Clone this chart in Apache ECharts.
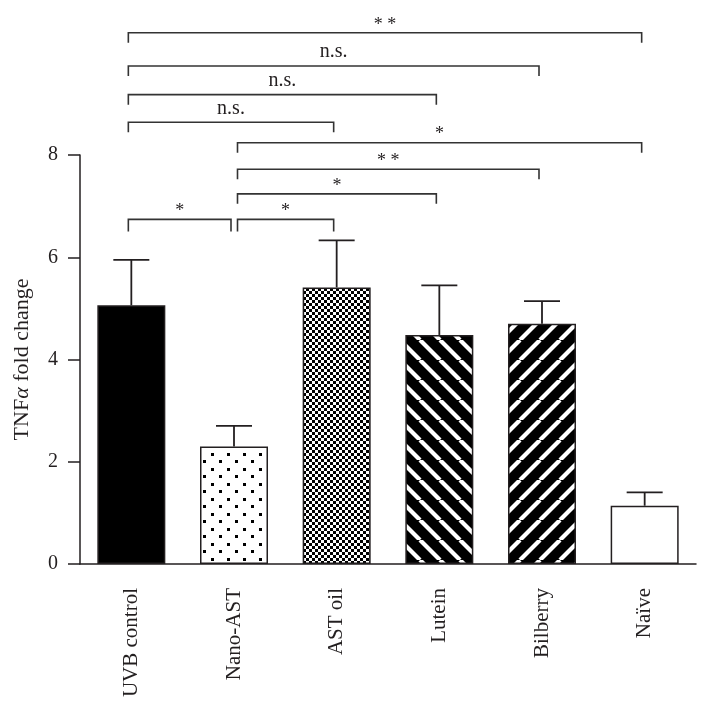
<!DOCTYPE html>
<html>
<head>
<meta charset="utf-8">
<style>html,body{margin:0;padding:0;background:#fff}#chart{width:710px;height:714px}</style>
<script src="https://cdn.jsdelivr.net/npm/echarts@6/dist/echarts.min.js"></script>
</head>
<body>
<div id="chart"></div>
<script>
// ---- data ----
const categories = ['UVB control', 'Nano-AST', 'AST oil', 'Lutein', 'Bilberry', 'Naïve'];
const means = [5.06, 2.30, 5.41, 4.48, 4.70, 1.14];
const errors = [0.89, 0.40, 0.92, 0.97, 0.44, 0.26];
const yTicks = [0, 2, 4, 6, 8];
const compFrom = [0, 0, 0, 0, 1, 1, 1, 0, 1];
const compTo = [5, 4, 3, 2, 5, 4, 3, 1, 2];
const compLabels = ['* *', 'n.s.', 'n.s.', 'n.s.', '*', '* *', '*', '*', '*'];
const compHeights = [10.39, 9.74, 9.18, 8.64, 8.24, 7.72, 7.24, 6.74, 6.74];

// ---- styles ----
const INK = '#231f20';
const FONT = '"Liberation Serif", "DejaVu Serif", serif';

function makeTile(w, h, draw) {
  const c = document.createElement('canvas');
  c.width = w; c.height = h;
  const g = c.getContext('2d');
  draw(g, w, h);
  return { image: c, repeat: 'repeat' };
}
const patDots = makeTile(16, 15, (g, w, h) => {
  g.fillStyle = '#fff'; g.fillRect(0, 0, w, h);
  g.fillStyle = '#000';
  g.fillRect(3, 3, 3, 3);
  g.fillRect(11, 10, 3, 3);
});
const patChecker = makeTile(6, 6, (g, w, h) => {
  g.fillStyle = '#fff'; g.fillRect(0, 0, w, h);
  g.fillStyle = '#000';
  g.fillRect(0, 0, 3, 3);
  g.fillRect(3, 3, 3, 3);
});
function stripes(dir) {
  return makeTile(20, 20, (g, w, h) => {
    g.fillStyle = '#000'; g.fillRect(0, 0, w, h);
    g.strokeStyle = '#fff'; g.lineWidth = 4.2;
    for (let k = -1; k <= 1; k++) {
      g.beginPath();
      if (dir > 0) { g.moveTo(k * w, 0); g.lineTo(k * w + w, h); }
      else { g.moveTo(k * w, h); g.lineTo(k * w + w, 0); }
      g.stroke();
    }
  });
}
const fills = ['#000', patDots, patChecker, stripes(1), stripes(-1), '#fff'];

const chart = echarts.init(document.getElementById('chart'));

const barData = means.map((v, i) => ({ value: v, itemStyle: { color: fills[i] } }));
const errData = means.map((v, i) => [i, v, errors[i]]);
const compData = compFrom.map((a, i) => [a, compTo[i], compHeights[i], i]);

chart.setOption({
  animation: false,
  backgroundColor: '#fff',
  grid: { left: 80, right: 14, top: 155, bottom: 150, containLabel: false, outerBoundsMode: 'none' },
  xAxis: {
    type: 'category',
    data: categories,
    axisLine: { lineStyle: { color: INK, width: 1.5 } },
    axisTick: { alignWithLabel: true, length: 12, lineStyle: { color: INK, width: 1.5 } },
    axisLabel: { rotate: 90, margin: 24, fontSize: 21, color: INK, fontFamily: FONT, interval: 0 },
    splitLine: { show: false }
  },
  yAxis: {
    type: 'value',
    min: yTicks[0], max: yTicks[yTicks.length - 1], interval: yTicks[1] - yTicks[0],
    axisLine: { show: true, lineStyle: { color: INK, width: 1.5 } },
    axisTick: { show: true, length: 12, lineStyle: { color: INK, width: 1.5 } },
    axisLabel: { fontSize: 20, color: INK, fontFamily: FONT, margin: 22 },
    splitLine: { show: false },
    name: '{n|TNF}{a|α}{n| fold change}',
    nameLocation: 'middle',
    nameGap: 47,
    nameTextStyle: {
      rich: {
        n: { fontSize: 22, color: INK, fontFamily: FONT },
        a: { fontSize: 22, color: INK, fontFamily: FONT, fontStyle: 'italic' }
      }
    }
  },
  series: [
    {
      type: 'bar',
      data: barData,
      barWidth: 68,
      itemStyle: { borderColor: INK, borderWidth: 1.5 },
      z: 2
    },
    {
      type: 'custom',
      data: errData,
      z: 1,
      clip: false,
      renderItem: function (params, api) {
        const i = api.value(0), m = api.value(1), e = api.value(2);
        const p0 = api.coord([i, m]);
        const p1 = api.coord([i, m + e]);
        const hw = 18;
        return {
          type: 'group',
          children: [
            { type: 'line', shape: { x1: p0[0], y1: p0[1], x2: p1[0], y2: p1[1] }, style: { stroke: INK, lineWidth: 1.8 } },
            { type: 'line', shape: { x1: p1[0] - hw, y1: p1[1], x2: p1[0] + hw, y2: p1[1] }, style: { stroke: INK, lineWidth: 1.8 } }
          ]
        };
      }
    },
    {
      type: 'custom',
      data: compData,
      clip: false,
      z: 3,
      renderItem: function (params, api) {
        const a = api.value(0), b = api.value(1), h = api.value(2), idx = api.value(3);
        const pa = api.coord([a, h]);
        const pb = api.coord([b, h]);
        const x1 = pa[0] + (a === 0 ? -3 : 3.5);
        const x2 = pb[0] - 3;
        const y = pa[1];
        const drop = (b - a === 1) ? 12 : 10;
        const label = compLabels[idx];
        const isNs = label === 'n.s.';
        return {
          type: 'group',
          children: [
            { type: 'polyline', shape: { points: [[x1, y + drop], [x1, y], [x2, y], [x2, y + drop]] }, style: { stroke: '#333', lineWidth: 1.6, fill: null } },
            { type: 'text', x: (x1 + x2) / 2, y: isNs ? y - 4 : y + 1,
              style: { text: label, fill: INK, font: (isNs ? '20px ' : '18px ') + FONT, align: 'center', verticalAlign: 'bottom' } }
          ]
        };
      }
    }
  ]
});
</script>
</body>
</html>
